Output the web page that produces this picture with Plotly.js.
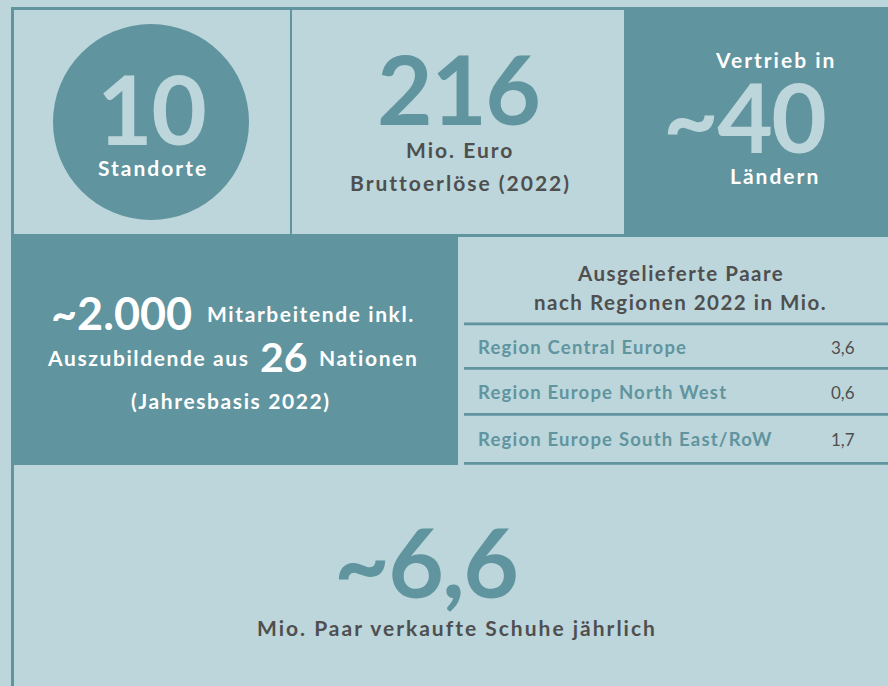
<!DOCTYPE html>
<html><head><meta charset="utf-8">
<script src="https://cdn.plot.ly/plotly-3.0.1.min.js"></script>
<style>html,body{margin:0;padding:0;background:#bcd6db;overflow:hidden}</style>
</head><body><div id="chart" style="width:888px;height:686px"></div>
<script>
// ---- data ----
const headlineNumbers = ['10', '216', '~40', '~6,6'];
const headlineCaptions = [['Standorte'], ['Mio. Euro', 'Bruttoerlöse (2022)'], ['Vertrieb in', 'Ländern'], ['Mio. Paar verkaufte Schuhe jährlich']];
const employeeFigures = ['~2.000', '26'];
const employeeTexts = ['Mitarbeitende inkl.', 'Auszubildende aus', 'Nationen', '(Jahresbasis 2022)'];
const tableTitle = ['Ausgelieferte Paare', 'nach Regionen 2022 in Mio.'];
const regions = ['Region Central Europe', 'Region Europe North West', 'Region Europe South East/RoW'];
const pairsMio = [3.6, 0.6, 1.7];

// ---- styles ----
const LIGHT = '#bcd6db', TEAL = '#60949e', GREY = '#4f4f4f', WHITE = '#ffffff';
const FONT = 'Lato, "Open Sans", sans-serif';
const fmt = v => v.toFixed(1).replace('.', ',');
const sp = (t, ls) => `<span style="letter-spacing:${ls}px">${t}</span>`;

function ann(text, x, y, size, color, opts = {}) {
  return Object.assign({
    text: text, x: x, y: y, xref: 'x', yref: 'y', showarrow: false,
    xanchor: 'center', yanchor: 'middle',
    font: {family: FONT, size: size, color: color, weight: opts.weight || 700}
  }, opts.extra || {});
}

const rect = (x0, y0, x1, y1, c) => ({type: 'rect', xref: 'x', yref: 'y', x0, y0, x1, y1, fillcolor: c, line: {width: 0}, layer: 'below'});

const shapes = [
  rect(11, 7, 624, 10, TEAL),          // top border
  rect(11, 7, 14, 236, TEAL),          // left border top row
  rect(290, 7, 292, 236, TEAL),        // divider
  rect(624, 7, 888, 236, TEAL),        // top-right box
  rect(11, 234, 888, 237, TEAL),       // row divider
  rect(11, 234, 458, 465, TEAL),       // mid-left box
  rect(11, 465, 14, 686, TEAL),        // bottom left border
  {type: 'circle', xref: 'x', yref: 'y', x0: 53, y0: 24, x1: 249, y1: 220, fillcolor: TEAL, line: {width: 0}, layer: 'below'}
];
const rowLines = [322.5, 367, 413, 462];
rowLines.forEach(y => shapes.push(rect(464, y, 888, y + 2.7, TEAL)));

const annotations = [];
// big headline numbers
const bigPos = [[151, 107, LIGHT], [458, 87, TEAL], [744, 115, LIGHT], [426, 560, TEAL]];
headlineNumbers.forEach((n, i) => {
  annotations.push(ann(sp(n, -1.5), bigPos[i][0], bigPos[i][1], 96, bigPos[i][2], {weight: 700}));
});
// captions
const capPos = [[[153, 167, WHITE]], [[460, 149, GREY], [460, 182, GREY]], [[775, 59, WHITE], [775, 175, WHITE]], [[457, 627, GREY]]];
headlineCaptions.forEach((lines, i) => lines.forEach((t, j) => {
  annotations.push(ann(sp(t, 2), capPos[i][j][0], capPos[i][j][1], 21, capPos[i][j][2]));
}));
// employees block
annotations.push(ann(sp(employeeFigures[0], 0), 121, 313, 45, WHITE));
annotations.push(ann(sp(employeeTexts[0], 1.6), 311, 313, 21, WHITE));
annotations.push(ann(sp(employeeTexts[1], 1.6), 148, 357, 21, WHITE));
annotations.push(ann(sp(employeeFigures[1], 0), 284, 356, 41, WHITE));
annotations.push(ann(sp(employeeTexts[2], 1.6), 368, 357, 21, WHITE));
annotations.push(ann(sp(employeeTexts[3], 1.6), 231, 400, 21, WHITE));
// table
annotations.push(ann(sp(tableTitle[0], 1.5), 680, 273, 20.5, GREY));
annotations.push(ann(sp(tableTitle[1], 1.5), 680, 302, 20.5, GREY));
const rowY = [347, 392, 439];
regions.forEach((r, i) => {
  annotations.push(ann(sp(r, 1.2), 476, rowY[i], 18.5, TEAL, {extra: {xanchor: 'left'}}));
  annotations.push(ann(fmt(pairsMio[i]), 857, rowY[i], 17, GREY, {weight: 400, extra: {xanchor: 'right'}}));
});

const layout = {
  width: 888, height: 686, margin: {l: 0, r: 0, t: 0, b: 0},
  paper_bgcolor: LIGHT, plot_bgcolor: 'rgba(0,0,0,0)',
  xaxis: {range: [0, 888], visible: false, fixedrange: true},
  yaxis: {range: [686, 0], visible: false, fixedrange: true},
  shapes: shapes, annotations: annotations, showlegend: false
};
Plotly.newPlot('chart', [], layout, {displayModeBar: false, staticPlot: true});
</script></body></html>
